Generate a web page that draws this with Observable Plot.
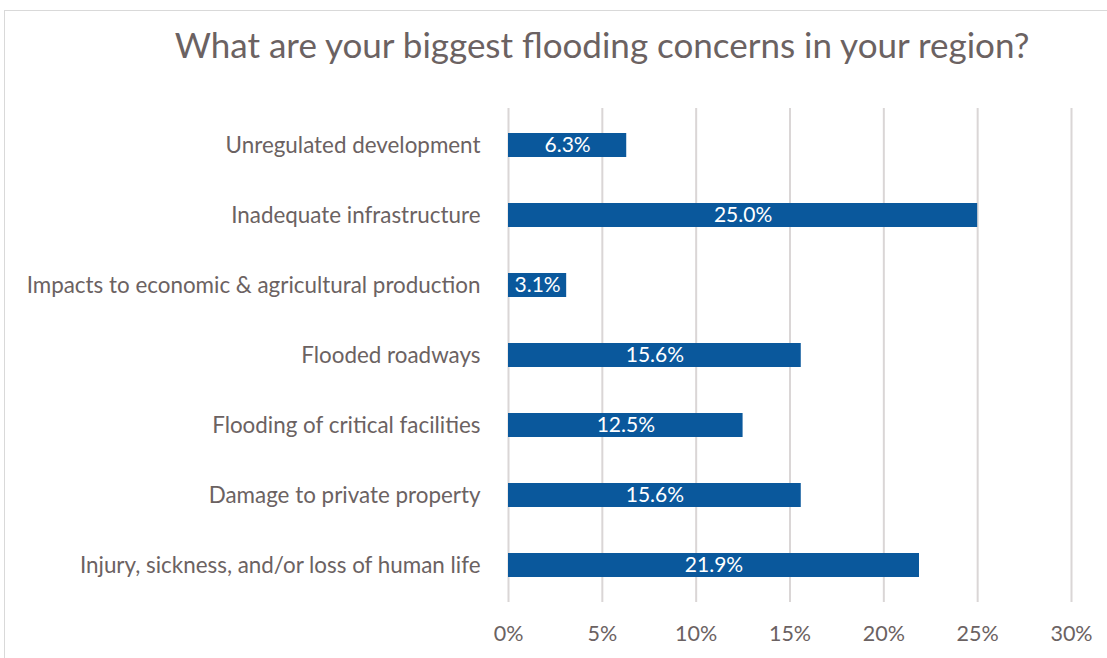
<!DOCTYPE html>
<html>
<head>
<meta charset="utf-8">
<script src="https://cdn.jsdelivr.net/npm/d3@7"></script>
<script src="https://cdn.jsdelivr.net/npm/@observablehq/plot@0.6"></script>
<style>
  html, body { margin: 0; padding: 0; background: #fff; }
  body { width: 1107px; height: 658px; position: relative; overflow: hidden; font-family: Lato, "Open Sans", sans-serif; }
  #frame { position: absolute; left: 4px; top: 10px; width: 1110px; height: 660px; border-top: 1.5px solid #d9d9d9; border-left: 1.5px solid #d9d9d9; }
  #title { position: absolute; left: 0; width: 1204px; top: 23px; text-align: center; font-size: 35px; line-height: 1.2; color: #6b6262; white-space: nowrap; }
  #chart { position: absolute; left: 0; top: 100px; }
</style>
</head>
<body>
<div id="frame"></div>
<div id="title">What are your biggest flooding concerns in your region?</div>
<div id="chart"></div>
<script>
const categories = [
  "Unregulated development",
  "Inadequate infrastructure",
  "Impacts to economic & agricultural production",
  "Flooded roadways",
  "Flooding of critical facilities",
  "Damage to private property",
  "Injury, sickness, and/or loss of human life"
];
const values = [6.3, 25.0, 3.1, 15.6, 12.5, 15.6, 21.9];
const xTicks = [0, 5, 10, 15, 20, 25, 30];

const data = categories.map((c, i) => ({category: c, value: values[i]}));
const textColor = "#6b6262";

const plot = Plot.plot({
  width: 1107,
  height: 558,
  marginLeft: 508,
  marginRight: 36,
  marginTop: 8,
  marginBottom: 56,
  style: {fontFamily: "Lato, 'Open Sans', sans-serif", background: "transparent"},
  x: {domain: [0, 30], ticks: xTicks},
  y: {domain: categories, paddingInner: 0.66, paddingOuter: 0.33},
  marks: [
    Plot.ruleX(xTicks, {stroke: "#dad6d6", strokeWidth: 2}),
    Plot.barX(data, {x: "value", y: "category", fill: "#0a589c"}),
    Plot.text(data, {x: d => d.value / 2, y: "category", text: d => d.value.toFixed(1) + "%", fill: "white", fontSize: 21}),
    Plot.axisX({ticks: xTicks, tickSize: 0, tickPadding: 23, tickFormat: d => d + "%", fontSize: 21.5, color: textColor, label: null}),
    Plot.axisY({tickSize: 0, tickPadding: 28, fontSize: 22.4, color: textColor, label: null})
  ]
});
document.getElementById("chart").appendChild(plot);
</script>
</body>
</html>
